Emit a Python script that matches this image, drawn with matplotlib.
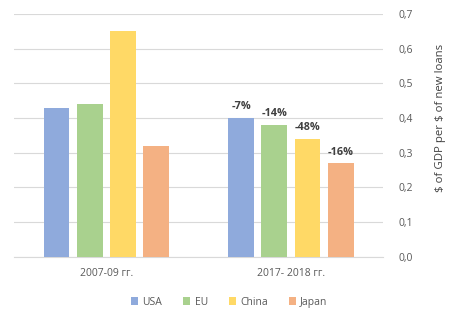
import numpy as np
import matplotlib.pyplot as plt
from matplotlib.patches import Patch

plt.rcParams['font.family'] = ['Open Sans', 'DejaVu Sans']

periods = ['2007-09 гг.', '2017- 2018 гг.']
countries = ['USA', 'EU', 'China', 'Japan']
colors = ['#8faadc', '#a9d18e', '#ffd966', '#f4b183']
values = {
    'USA': [0.43, 0.40],
    'EU': [0.44, 0.38],
    'China': [0.65, 0.34],
    'Japan': [0.32, 0.27],
}
changes = ['-7%', '-14%', '-48%', '-16%']

fig = plt.figure(figsize=(4.54, 3.22), dpi=100)
ax = fig.add_axes([0.031, 0.202, 0.813, 0.755])

x = np.arange(len(periods))
width = 0.14
offsets = [-0.27, -0.09, 0.09, 0.27]

for i, c in enumerate(countries):
    bars = ax.bar(x + offsets[i], values[c], width, color=colors[i], zorder=3)
    # изменение во втором периоде
    b = bars[1]
    ax.annotate(changes[i], (b.get_x() + b.get_width() / 2, b.get_height()),
                xytext=(0, 4), textcoords='offset points', ha='center', va='bottom',
                fontsize=7.8, fontweight='bold', color='#404040')

ax.set_xlim(-0.5, 1.5)
ax.set_ylim(0, 0.7)
ticks = np.arange(0, 0.71, 0.1)
ax.set_yticks(ticks)
ax.set_yticklabels([f'{v:.1f}'.replace('.', ',') for v in ticks])
ax.yaxis.tick_right()
ax.yaxis.set_label_position('right')
ax.set_ylabel(r'\$ of GDP per \$ of new loans', fontsize=8.2, color='#404040', labelpad=12)
ax.yaxis.set_label_coords(1.14, 0.57)
ax.set_xticks(x)
ax.set_xticklabels(periods)
ax.tick_params(axis='both', length=0, labelsize=7.5, colors='#595959')
ax.tick_params(axis='y', pad=11)
ax.tick_params(axis='x', pad=8)
ax.grid(axis='y', color='#d9d9d9', linewidth=0.8, zorder=0)
for s in ['top', 'left', 'right']:
    ax.spines[s].set_visible(False)
ax.spines['bottom'].set_color('#d9d9d9')

handles = [Patch(facecolor=col) for col in colors]
fig.legend(handles, countries, loc='center', bbox_to_anchor=(0.505, 0.062), ncol=4,
           frameon=False, fontsize=7.5, handlelength=0.7, handleheight=0.7,
           columnspacing=2.0, handletextpad=0.4, labelcolor='#595959')

fig.savefig('out.png', dpi=100)
